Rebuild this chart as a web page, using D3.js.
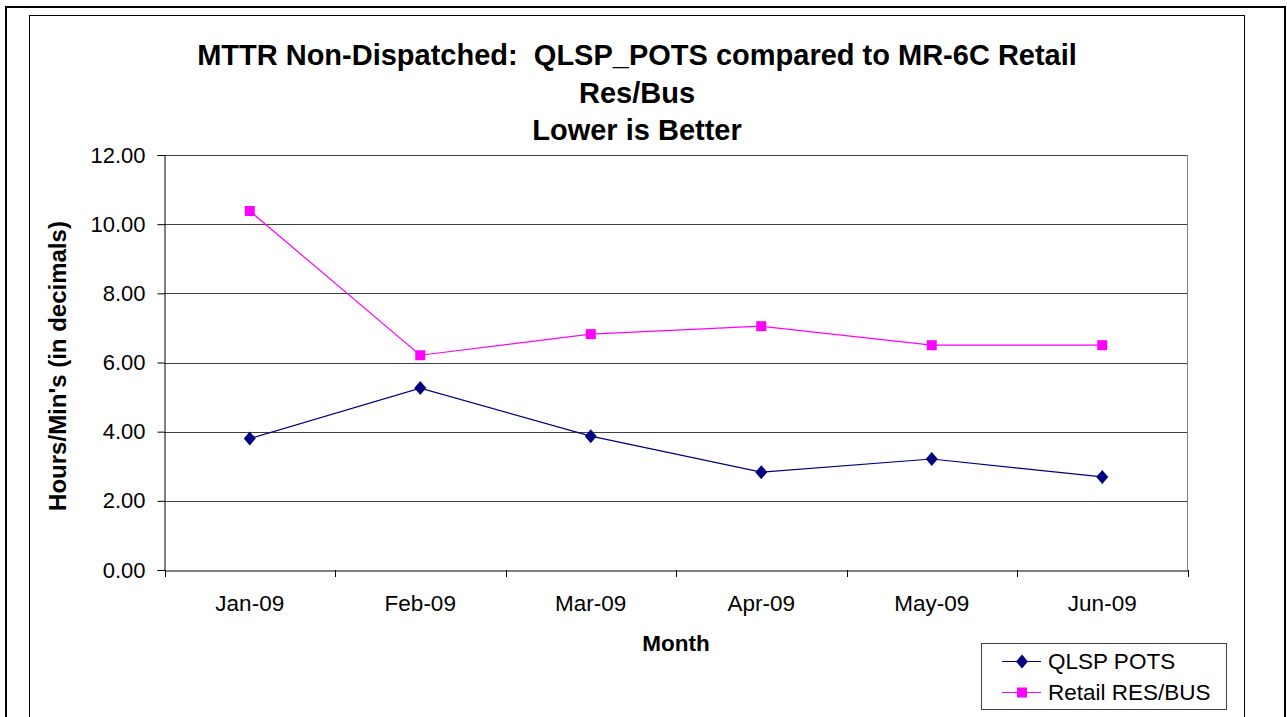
<!DOCTYPE html>
<html><head><meta charset="utf-8">
<script src="https://cdn.jsdelivr.net/npm/d3@7"></script>
<style>body{margin:0;background:#fff}svg{display:block}text{font-family:"Liberation Sans",Arial,sans-serif;white-space:pre}</style>
</head><body>
<svg id="c" width="1287" height="717"></svg>
<script>
const months = ["Jan-09","Feb-09","Mar-09","Apr-09","May-09","Jun-09"];
const qlspPots = [3.80, 5.26, 3.87, 2.83, 3.21, 2.69];
const retailResBus = [10.38, 6.21, 6.82, 7.05, 6.50, 6.50];
const yTicks = [0,2,4,6,8,10,12];
const seriesNames = ["QLSP POTS","Retail RES/BUS"];
const titleLines = ["MTTR Non-Dispatched:  QLSP_POTS compared to MR-6C Retail","Res/Bus","Lower is Better"];

const svg = d3.select("#c");
const FF = "Liberation Sans, Arial, sans-serif";
// outer frames
svg.append("rect").attr("x",6).attr("y",7).attr("width",1279).attr("height",720).attr("fill","none").attr("stroke","#000").attr("stroke-width",2);
svg.append("rect").attr("x",29.5).attr("y",15.5).attr("width",1215).attr("height",720).attr("fill","none").attr("stroke","#000").attr("stroke-width",1);

const L=164.5, R=1187.5, T=155, B=570;
const x = d3.scaleBand().domain(months).range([L,R]);
const y = d3.scaleLinear().domain([0,12]).range([B,T]);

// gridlines
svg.append("g").selectAll("line").data(yTicks.filter(d=>d>0)).join("line")
  .attr("x1",L).attr("x2",R).attr("y1",d=>Math.round(y(d))+0.5).attr("y2",d=>Math.round(y(d))+0.5)
  .attr("stroke","#404040").attr("stroke-width",1);
// plot right border
svg.append("line").attr("x1",R).attr("x2",R).attr("y1",T).attr("y2",B).attr("stroke","#808080");

// y axis
const yAxis = d3.axisLeft(y).tickValues(yTicks).tickFormat(d3.format(".2f")).tickSize(7).tickPadding(12);
const gy = svg.append("g").attr("transform",`translate(${L},0)`).call(yAxis);
gy.select(".domain").attr("stroke","#000");
gy.selectAll(".tick line").attr("stroke","#000");
gy.selectAll("text").attr("font-size",22).attr("fill","#000").attr("font-family",FF);

// x axis
const xAxis = d3.axisBottom(x).tickSize(0).tickPadding(25);
const gx = svg.append("g").attr("transform",`translate(0,${B+0.5})`).call(xAxis);
gx.select(".domain").attr("stroke","#000");
gx.selectAll("text").attr("font-size",22.5).attr("fill","#000").attr("font-family",FF);
// category boundary ticks
const bounds = months.map(m=>x(m)).concat([R]);
svg.append("g").selectAll("line").data(bounds).join("line")
  .attr("x1",d=>Math.round(d)+0.5).attr("x2",d=>Math.round(d)+0.5).attr("y1",B).attr("y2",B+7).attr("stroke","#000");

const cx = m => x(m)+x.bandwidth()/2;
const line = d3.line().x((d,i)=>cx(months[i])).y(d=>y(d));
const diamond = "M0,-7L6,0L0,7L-6,0Z";

// Retail
svg.append("path").datum(retailResBus).attr("d",line).attr("fill","none").attr("stroke","#FF00FF").attr("stroke-width",1.2);
svg.append("g").selectAll("rect").data(retailResBus).join("rect")
  .attr("x",(d,i)=>cx(months[i])-5).attr("y",d=>y(d)-5).attr("width",10).attr("height",10).attr("fill","#FF00FF");
// QLSP
svg.append("path").datum(qlspPots).attr("d",line).attr("fill","none").attr("stroke","#000080").attr("stroke-width",1.2);
svg.append("g").selectAll("path").data(qlspPots).join("path")
  .attr("d",diamond).attr("transform",(d,i)=>`translate(${cx(months[i])},${y(d)})`).attr("fill","#000080");

// title
svg.append("g").selectAll("text").data(titleLines).join("text")
  .attr("x",637).attr("y",(d,i)=>65+i*37.5).attr("text-anchor","middle")
  .attr("font-size",29).attr("font-weight","bold").text(d=>d);

// axis titles
svg.append("text").attr("transform","translate(57,366) rotate(-90)").attr("text-anchor","middle")
  .attr("dominant-baseline","central").attr("font-size",24).attr("font-weight","bold").text("Hours/Min's (in decimals)");
svg.append("text").attr("x",676).attr("y",651).attr("text-anchor","middle").attr("font-size",22.5).attr("font-weight","bold").text("Month");

// legend
const lg = svg.append("g");
lg.append("rect").attr("x",981.5).attr("y",643.5).attr("width",245).attr("height",66).attr("fill","#fff").attr("stroke","#404040");
const colors = ["#000080","#FF00FF"];
seriesNames.forEach((n,i)=>{
  const yy = 661.5 + i*31;
  lg.append("line").attr("x1",1002).attr("x2",1041).attr("y1",yy).attr("y2",yy).attr("stroke",colors[i]).attr("stroke-width",1.2);
  if(i===0) lg.append("path").attr("d",diamond).attr("transform",`translate(1022,${yy})`).attr("fill",colors[i]);
  else lg.append("rect").attr("x",1017).attr("y",yy-5).attr("width",10).attr("height",10).attr("fill",colors[i]);
  lg.append("text").attr("x",1048).attr("y",yy+7.5).attr("font-size",22.5).text(n);
});
</script>
</body></html>
